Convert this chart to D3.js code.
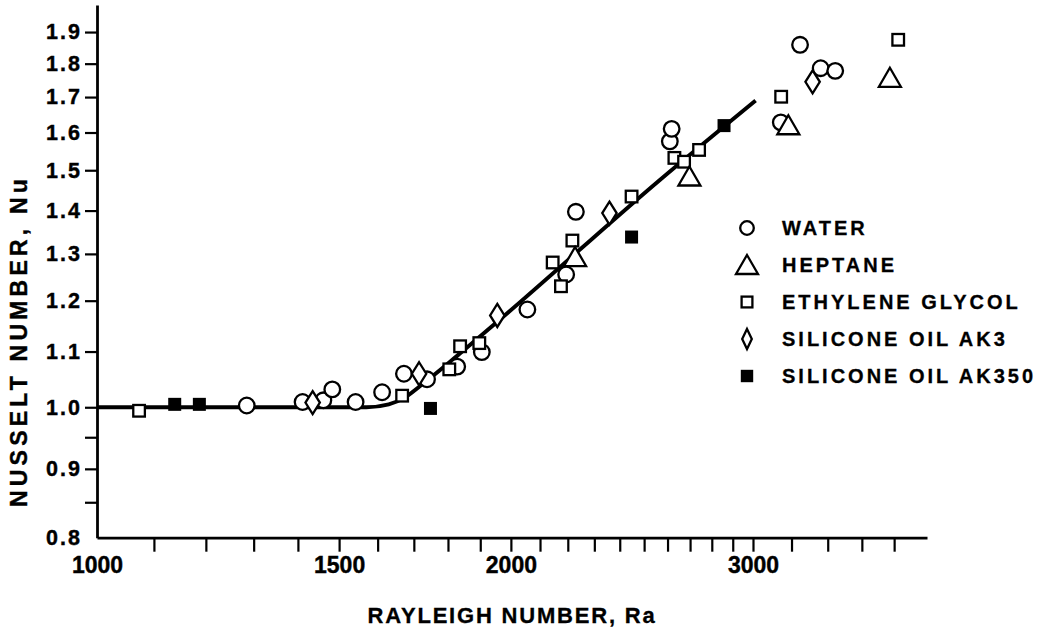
<!DOCTYPE html>
<html>
<head>
<meta charset="utf-8">
<script src="https://cdn.jsdelivr.net/npm/d3@7"></script>
<style>
  html, body { margin: 0; padding: 0; background: #fff; }
  svg { display: block; font-family: "Liberation Sans", Arial, Helvetica, sans-serif; font-weight: bold; }
</style>
</head>
<body>
<svg id="chart" width="1037" height="630"></svg>
<script>
// Heat transfer across a convecting fluid layer: Nusselt number against Rayleigh number.

// Axis ticks
const xTickValues = [1000, 1100, 1200, 1300, 1400, 1500, 1600, 1700, 1800, 1900,
                     2000, 2100, 2200, 2300, 2400, 2500, 2600, 2700, 2800, 2900,
                     3000, 3200, 3400, 3600, 3800];
const xTickLabels = [1000, 1500, 2000, 3000];
const yTickValues = [0.8, 0.9, 1.0, 1.1, 1.2, 1.3, 1.4, 1.5, 1.6, 1.7, 1.8, 1.9];
const yMinorTicks = [0.85, 0.95];

// Water (open circles)
const waterRa = [1285, 1411, 1461, 1483, 1542, 1612, 1672, 1738, 1828, 1905,
                 2056, 2194, 2230, 2610, 2618, 3143, 3246, 3360, 3443];
const waterNu = [1.003, 1.009, 1.012, 1.031, 1.009, 1.026, 1.059, 1.049, 1.072, 1.099,
                 1.182, 1.255, 1.397, 1.576, 1.610, 1.628, 1.859, 1.786, 1.778];

// Heptane (open triangles)
const heptaneRa = [2227, 2697, 3183, 3773];
const heptaneNu = [1.293, 1.484, 1.620, 1.757];

// Ethylene glycol (open squares)
const glycolRa = [1073, 1667, 1804, 1837, 1897, 2145, 2175, 2217, 2448, 2630, 2673, 2741, 3145, 3826];
const glycolNu = [0.994, 1.020, 1.067, 1.110, 1.116, 1.281, 1.230, 1.330, 1.434, 1.532, 1.522, 1.553, 1.701, 1.875];

// Silicone oil AK3 (open diamonds)
const ak3Ra = [1435, 1715, 1955, 2359, 3315];
const ak3Nu = [1.008, 1.059, 1.170, 1.394, 1.745];

// Silicone oil AK350 (filled squares)
const ak350Ra = [1139, 1187, 1748, 2448, 2858];
const ak350Nu = [1.005, 1.005, 0.998, 1.338, 1.619];

// Theoretical curve
const curveRa = [1000, 1570, 1630, 1675, 1718, 1826, 1964, 2568, 3013];
const curveNu = [1.0, 1.0, 1.005, 1.017, 1.037, 1.091, 1.162, 1.476, 1.690];

const legendLabels = ["WATER", "HEPTANE", "ETHYLENE GLYCOL", "SILICONE OIL AK3", "SILICONE OIL AK350"];
const legendShapes = ["circle", "triangle", "square", "diamond", "filled"];

const svg = d3.select("#chart");

const x = d3.scaleLog().domain([1000, 4015]).range([97, 927]);
const y = d3.scaleLog().domain([0.8, 1.99]).range([537.7, 5]);

// Axes
const xAxis = d3.axisBottom(x)
  .tickValues(xTickValues)
  .tickSize(14)
  .tickSizeOuter(0)
  .tickPadding(5)
  .tickFormat(d => xTickLabels.includes(d) ? String(d) : "");

const gx = svg.append("g").attr("transform", `translate(0,${y.range()[0]})`).call(xAxis);
gx.select(".domain").attr("stroke", "#000").attr("stroke-width", 2.8);
gx.selectAll(".tick line").attr("stroke", "#000").attr("stroke-width", 2.2);
gx.selectAll(".tick").filter(d => d === 1000).select("line").remove();
gx.selectAll(".tick text").attr("font-size", 23).attr("fill", "#000")
  .attr("stroke", "#000").attr("stroke-width", 0.4);

const yAxis = d3.axisLeft(y)
  .tickValues(yTickValues.concat(yMinorTicks))
  .tickSize(12)
  .tickSizeOuter(0)
  .tickPadding(3)
  .tickFormat(d => yTickValues.includes(d) ? d.toFixed(1) : "");

const gy = svg.append("g").attr("transform", `translate(${x.range()[0]},0)`).call(yAxis);
gy.select(".domain").attr("stroke", "#000").attr("stroke-width", 2.8);
gy.selectAll(".tick line").attr("stroke", "#000").attr("stroke-width", 2.2);
gy.selectAll(".tick").filter(d => d === 0.8).select("line").remove();
gy.selectAll(".tick text").attr("font-size", 21.5).attr("letter-spacing", 2).attr("fill", "#000")
  .attr("stroke", "#000").attr("stroke-width", 0.4);

// Axis titles
svg.append("text")
  .attr("x", 512).attr("y", 623)
  .attr("text-anchor", "middle")
  .attr("font-size", 22)
  .attr("letter-spacing", 1.8)
  .attr("stroke", "#000").attr("stroke-width", 0.3)
  .text("RAYLEIGH NUMBER, Ra");

svg.append("text")
  .attr("transform", "translate(27,341) rotate(-90)")
  .attr("text-anchor", "middle")
  .attr("font-size", 23)
  .attr("letter-spacing", 4.2)
  .attr("stroke", "#000").attr("stroke-width", 0.4)
  .text("NUSSELT NUMBER, Nu");

// Theoretical curve
const curvePts = curveRa.map((r, i) => [x(r), y(curveNu[i])]);
svg.append("path")
  .attr("d", d3.line().curve(d3.curveMonotoneX)(curvePts))
  .attr("fill", "none")
  .attr("stroke", "#000")
  .attr("stroke-width", 4);

// Marker shapes
function drawMarker(g, shape, big) {
  const sw = 2.3;
  if (shape === "circle") {
    g.append("circle").attr("r", big ? 7.8 : 6.8)
      .attr("fill", "#fff").attr("stroke", "#000").attr("stroke-width", sw);
  } else if (shape === "triangle") {
    g.append("path").attr("d", "M0,-10L11,9L-11,9Z")
      .attr("fill", "#fff").attr("stroke", "#000").attr("stroke-width", sw);
  } else if (shape === "square") {
    const h = big ? 5.8 : 5.4;
    g.append("rect").attr("x", -h).attr("y", -h).attr("width", 2 * h).attr("height", 2 * h)
      .attr("fill", "#fff").attr("stroke", "#000").attr("stroke-width", sw);
  } else if (shape === "diamond") {
    const w = big ? 7.2 : 4.8, hh = big ? 11.5 : 10;
    g.append("path").attr("d", `M0,${-hh}L${w},0L0,${hh}L${-w},0Z`)
      .attr("fill", "#fff").attr("stroke", "#000").attr("stroke-width", sw);
  } else {
    const h = big ? 6.5 : 6.2;
    g.append("rect").attr("x", -h).attr("y", -h).attr("width", 2 * h).attr("height", 2 * h)
      .attr("fill", "#000");
  }
}

const series = [
  { ra: waterRa, nu: waterNu, shape: "circle" },
  { ra: glycolRa, nu: glycolNu, shape: "square" },
  { ra: ak3Ra, nu: ak3Nu, shape: "diamond" },
  { ra: heptaneRa, nu: heptaneNu, shape: "triangle" },
  { ra: ak350Ra, nu: ak350Nu, shape: "filled" }
];

series.forEach(sr => {
  const pts = sr.ra.map((r, i) => ({ ra: r, nu: sr.nu[i] }));
  svg.append("g").selectAll("g")
    .data(pts)
    .join("g")
    .attr("transform", d => `translate(${x(d.ra)},${y(d.nu)})`)
    .each(function () { drawMarker(d3.select(this), sr.shape, true); });
});

// Legend
const legend = svg.append("g").attr("transform", "translate(747,228)");
legendLabels.forEach((lab, i) => {
  const row = legend.append("g").attr("transform", `translate(0,${i * 37})`);
  drawMarker(row, legendShapes[i], false);
  row.append("text")
    .attr("x", 35).attr("y", 7.3)
    .attr("font-size", 20)
    .attr("letter-spacing", 3)
    .attr("stroke", "#000").attr("stroke-width", 0.3)
    .text(lab);
});
</script>
</body>
</html>
